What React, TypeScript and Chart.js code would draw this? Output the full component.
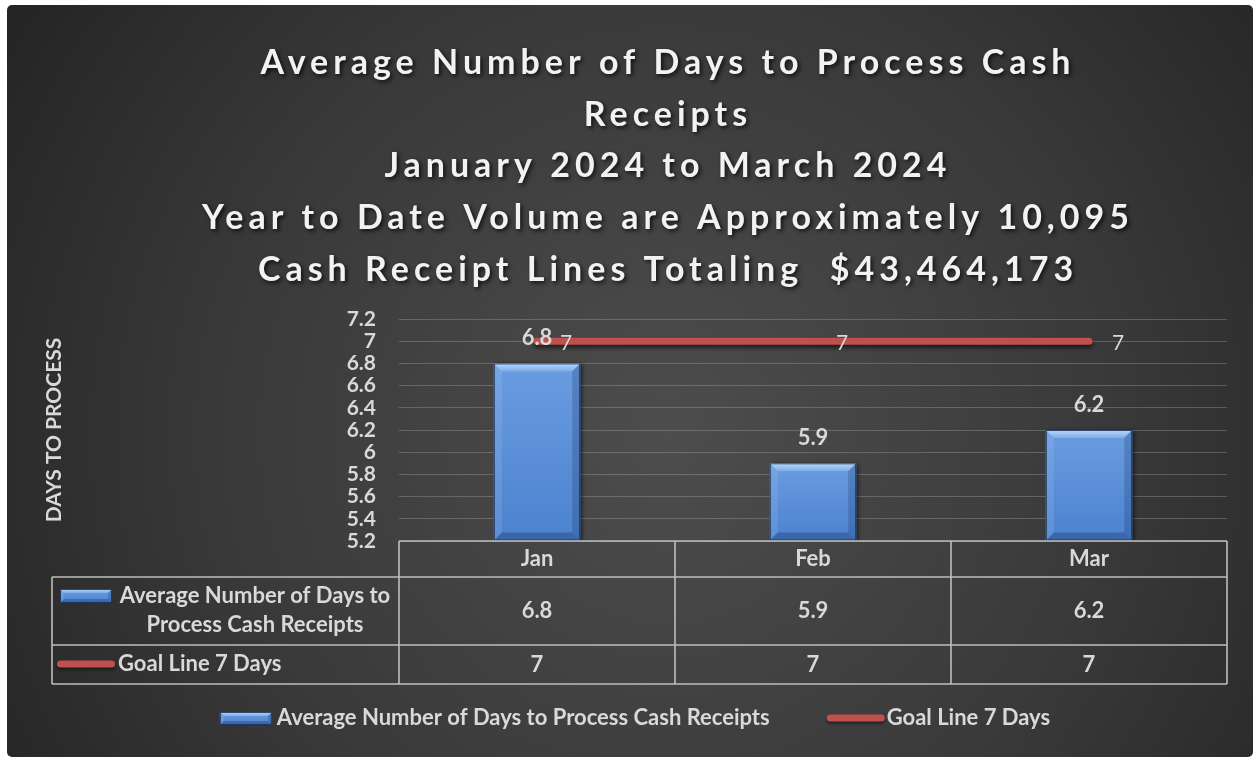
import React, { useEffect, useRef } from "react";
import { Chart, registerables } from "chart.js";

Chart.register(...registerables);

// ---------- data ----------
const categories = ["Jan", "Feb", "Mar"];
const avgDays = [6.8, 5.9, 6.2];
const goalLine = [7, 7, 7];
const yMin = 5.2;
const yMax = 7.2;
const yStep = 0.2;
const yTickLabels = ["5.2", "5.4", "5.6", "5.8", "6", "6.2", "6.4", "6.6", "6.8", "7", "7.2"];
const seriesNames = ["Average Number of Days to Process Cash Receipts", "Goal Line 7 Days"];
const tableSeriesLabel = ["Average Number of Days to", "Process Cash Receipts"];
const titleLines = [
  "Average Number of Days to Process Cash",
  "Receipts",
  "January 2024 to March 2024",
  "Year to Date Volume are Approximately 10,095",
  "Cash Receipt Lines Totaling  $43,464,173",
];
const yAxisTitle = "DAYS TO PROCESS";

// ---------- style ----------
const FONT = "Lato, 'Open Sans', sans-serif";
const TEXT = "#d9d9d9";
const RED = "#c0504d";

function poly(ctx: CanvasRenderingContext2D, pts: number[][], fill: any) {
  ctx.beginPath();
  ctx.moveTo(pts[0][0], pts[0][1]);
  for (let i = 1; i < pts.length; i++) ctx.lineTo(pts[i][0], pts[i][1]);
  ctx.closePath();
  ctx.fillStyle = fill;
  ctx.fill();
}

function drawBevelRect(ctx: CanvasRenderingContext2D, l: number, t: number, r: number, b: number, bv: number) {
  ctx.save();
  const g = ctx.createLinearGradient(0, t, 0, b);
  g.addColorStop(0, "#6a9ce0");
  g.addColorStop(1, "#4c83cf");
  ctx.fillStyle = g;
  ctx.fillRect(l, t, r - l, b - t);
  const gt = ctx.createLinearGradient(0, t, 0, t + bv);
  gt.addColorStop(0, "#b8d9fc");
  gt.addColorStop(1, "#7eabe8");
  poly(ctx, [[l, t], [r, t], [r - bv, t + bv], [l + bv, t + bv]], gt);
  poly(ctx, [[l, t], [l + bv, t + bv], [l + bv, b - bv], [l, b]], "rgba(255,255,255,0.10)");
  poly(ctx, [[r, t], [r, b], [r - bv, b - bv], [r - bv, t + bv]], "rgba(10,30,70,0.20)");
  poly(ctx, [[l, b], [l + bv, b - bv], [r - bv, b - bv], [r, b]], "rgba(10,30,70,0.28)");
  ctx.strokeStyle = "rgba(25,45,80,0.85)";
  ctx.lineWidth = 1;
  ctx.strokeRect(l + 0.5, t + 0.5, r - l - 1, b - t - 1);
  ctx.restore();
}

function drawLineKey(ctx: CanvasRenderingContext2D, x1: number, x2: number, y: number) {
  ctx.save();
  ctx.strokeStyle = RED;
  ctx.lineWidth = 7;
  ctx.lineCap = "round";
  ctx.shadowColor = "rgba(0,0,0,0.5)";
  ctx.shadowBlur = 3;
  ctx.shadowOffsetY = 2;
  ctx.beginPath();
  ctx.moveTo(x1 + 3.5, y);
  ctx.lineTo(x2 - 3.5, y);
  ctx.stroke();
  ctx.restore();
}

// ---------- plugins ----------
const bgPlugin = {
  id: "bg",
  beforeDraw(chart: any) {
    const { ctx, width, height } = chart;
    ctx.save();
    const g = ctx.createRadialGradient(660, 430, 0, 660, 430, 820);
    g.addColorStop(0, "#4d4d4d");
    g.addColorStop(0.55, "#393939");
    g.addColorStop(1, "#222222");
    ctx.fillStyle = g;
    ctx.fillRect(0, 0, width, height);
    ctx.restore();
  },
};

const titlePlugin = {
  id: "titleLines",
  afterDraw(chart: any) {
    const ctx = chart.ctx as CanvasRenderingContext2D;
    ctx.save();
    ctx.font = `bold 34px ${FONT}`;
    (ctx as any).letterSpacing = "5px";
    ctx.textAlign = "center";
    ctx.textBaseline = "alphabetic";
    ctx.fillStyle = "#f2f2f2";
    ctx.shadowColor = "rgba(0,0,0,0.75)";
    ctx.shadowBlur = 4;
    ctx.shadowOffsetX = 2;
    ctx.shadowOffsetY = 2;
    titleLines.forEach((t, i) => ctx.fillText(t, 661, 69 + i * 51.7));
    ctx.restore();
  },
};

const effectsPlugin = {
  id: "effects",
  beforeDatasetDraw(chart: any, args: any) {
    const ctx = chart.ctx;
    ctx.save();
    if (args.meta.type === "line") {
      ctx.shadowColor = "rgba(0,0,0,0.6)";
      ctx.shadowBlur = 4;
      ctx.shadowOffsetY = 3;
    } else {
      ctx.shadowColor = "rgba(0,0,0,0.6)";
      ctx.shadowBlur = 4;
      ctx.shadowOffsetX = 2;
      ctx.shadowOffsetY = 1;
    }
  },
  afterDatasetDraw(chart: any, args: any) {
    const ctx = chart.ctx;
    ctx.restore();
    if (args.meta.type === "bar") {
      args.meta.data.forEach((el: any) => {
        const p = el.getProps(["x", "y", "base", "width"], true);
        drawBevelRect(ctx, p.x - p.width / 2, p.y, p.x + p.width / 2, p.base, 8);
      });
    }
  },
};

const labelsPlugin = {
  id: "valueLabels",
  afterDatasetsDraw(chart: any) {
    const ctx = chart.ctx as CanvasRenderingContext2D;
    ctx.save();
    ctx.fillStyle = TEXT;
    ctx.textBaseline = "middle";
    const barMeta = chart.getDatasetMeta(0);
    ctx.font = `bold 22px ${FONT}`;
    ctx.textAlign = "center";
    barMeta.data.forEach((el: any, i: number) => {
      ctx.fillText(String(avgDays[i]), el.x, el.y - 25);
    });
    const lineMeta = chart.getDatasetMeta(1);
    ctx.font = `21px ${FONT}`;
    ctx.textAlign = "left";
    lineMeta.data.forEach((el: any, i: number) => {
      ctx.fillText(String(goalLine[i]), el.x + 23, el.y + 2);
    });
    ctx.restore();
  },
};

const tablePlugin = {
  id: "dataTable",
  afterDraw(chart: any) {
    const ctx = chart.ctx as CanvasRenderingContext2D;
    const ca = chart.chartArea;
    const xs = chart.scales.x;
    const n = categories.length;
    const cw = (ca.right - ca.left) / n;
    const y0 = ca.bottom;
    const y1 = y0 + 36;
    const y2 = y1 + 68;
    const y3 = y2 + 39;
    const left = 45;
    ctx.save();
    ctx.strokeStyle = "#bdbdbd";
    ctx.lineWidth = 1.6;
    ctx.beginPath();
    ctx.moveTo(ca.left, y0); ctx.lineTo(ca.right, y0);
    [y1, y2, y3].forEach((y) => { ctx.moveTo(left, y); ctx.lineTo(ca.right, y); });
    ctx.moveTo(left, y1); ctx.lineTo(left, y3);
    for (let i = 0; i <= n; i++) {
      const x = ca.left + i * cw;
      ctx.moveTo(x, y0); ctx.lineTo(x, y3);
    }
    ctx.stroke();

    ctx.fillStyle = TEXT;
    ctx.font = `bold 22px ${FONT}`;
    ctx.textAlign = "center";
    ctx.textBaseline = "middle";
    categories.forEach((c, i) => {
      const x = xs.getPixelForValue(i);
      ctx.fillText(c, x, (y0 + y1) / 2);
      ctx.fillText(String(avgDays[i]), x, (y1 + y2) / 2);
      ctx.fillText(String(goalLine[i]), x, (y2 + y3) / 2);
    });

    // row headers
    drawBevelRect(ctx, 53, y1 + 12, 105, y1 + 26, 4);
    ctx.fillStyle = TEXT;
    ctx.textAlign = "center";
    ctx.fillText(tableSeriesLabel[0], 248, y1 + 19);
    ctx.fillText(tableSeriesLabel[1], 248, y1 + 48);
    drawLineKey(ctx, 50, 108, y2 + 19);
    ctx.fillStyle = TEXT;
    ctx.textAlign = "left";
    ctx.fillText(seriesNames[1], 111, y2 + 19);
    ctx.restore();
  },
};

const legendPlugin = {
  id: "bottomLegend",
  afterDraw(chart: any) {
    const ctx = chart.ctx as CanvasRenderingContext2D;
    ctx.save();
    ctx.font = `bold 22px ${FONT}`;
    const w1 = ctx.measureText(seriesNames[0]).width;
    const w2 = ctx.measureText(seriesNames[1]).width;
    const total = 52 + 5 + w1 + 57 + 58 + 2 + w2;
    const cy = 713;
    let x = 628 - total / 2;
    drawBevelRect(ctx, x, cy - 6, x + 52, cy + 7, 4);
    x += 57;
    ctx.fillStyle = TEXT;
    ctx.textAlign = "left";
    ctx.textBaseline = "middle";
    ctx.fillText(seriesNames[0], x, cy);
    x += w1 + 57;
    drawLineKey(ctx, x, x + 58, cy);
    x += 60;
    ctx.fillStyle = TEXT;
    ctx.fillText(seriesNames[1], x, cy);
    ctx.restore();
  },
};

export default function App() {
  const ref = useRef<HTMLCanvasElement>(null);
  useEffect(() => {
    const canvas = ref.current!;
    const chart = new Chart(canvas, {
      type: "bar",
      data: {
        labels: categories,
        datasets: [
          {
            type: "bar",
            label: seriesNames[0],
            data: avgDays,
            base: yMin,
            backgroundColor: "#5a8dd5",
            borderWidth: 0,
            barPercentage: 0.313,
            categoryPercentage: 1,
            order: 1,
          } as any,
          {
            type: "line",
            label: seriesNames[1],
            data: goalLine,
            borderColor: RED,
            borderWidth: 7,
            borderCapStyle: "round",
            pointRadius: 0,
            pointHoverRadius: 0,
            fill: false,
            tension: 0,
            order: 0,
          } as any,
        ],
      },
      options: {
        responsive: false,
        animation: false,
        events: [],
        layout: { padding: { top: 314, bottom: 216, right: 26, left: 0 } },
        plugins: {
          legend: { display: false },
          title: { display: false },
          tooltip: { enabled: false },
        },
        scales: {
          x: { display: false, offset: true },
          y: {
            min: yMin,
            max: yMax,
            ticks: {
              stepSize: yStep,
              autoSkip: false,
              padding: 23,
              color: TEXT,
              font: { family: FONT, size: 21, weight: "bold", lineHeight: 1 },
              callback: (_v: any, i: number) => yTickLabels[i],
            },
            grid: { color: "rgba(255,255,255,0.2)", drawTicks: false, lineWidth: 1 },
            border: { display: false },
            title: {
              display: true,
              text: yAxisTitle,
              color: TEXT,
              font: { family: FONT, size: 21, weight: "bold", lineHeight: 1.2 },
              padding: { top: 35, bottom: 0 },
            },
            afterFit: (s: any) => {
              s.width = 392;
            },
          },
        },
      } as any,
      plugins: [bgPlugin, titlePlugin, effectsPlugin, labelsPlugin, tablePlugin, legendPlugin],
    });
    return () => chart.destroy();
  }, []);
  return (
    <div
      style={{
        position: "absolute",
        left: 7,
        top: 5,
        width: 1246,
        height: 752,
        borderRadius: 5,
        overflow: "hidden",
      }}
    >
      <canvas ref={ref} width={1246} height={752} style={{ display: "block" }} />
    </div>
  );
}
